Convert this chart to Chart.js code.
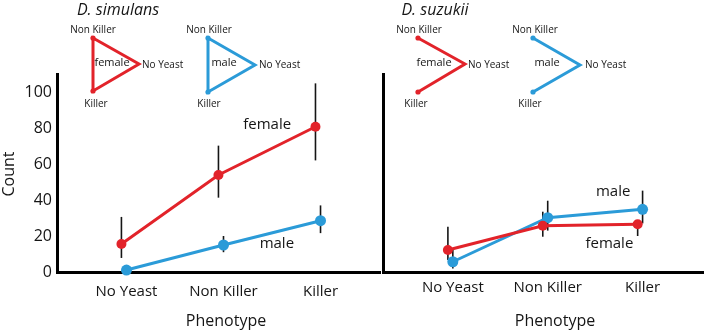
<!DOCTYPE html>
<html>
<head>
<meta charset="utf-8">
<script src="https://cdn.jsdelivr.net/npm/chart.js@4.4.0/dist/chart.umd.min.js"></script>
<style>
  body { margin: 0; background: #fff; }
  #wrap { position: relative; width: 709px; height: 332px; }
  #wrap canvas { position: absolute; left: 0; top: 0; }
</style>
</head>
<body>
<div id="wrap">
  <canvas id="simChart" width="709" height="332"></canvas>
  <canvas id="suzChart" width="709" height="332"></canvas>
</div>
<script>
const categories = ['No Yeast', 'Non Killer', 'Killer'];
const yTicks = [0, 20, 40, 60, 80, 100];

// D. simulans
const simFemale = [15.6, 53.9, 80.7];
const simFemaleLow = [7.8, 41.3, 62];
const simFemaleHigh = [30.6, 70.2, 104.8];
const simMale = [1.1, 15, 28.5];
const simMaleLow = [1.1, 11, 21.6];
const simMaleHigh = [1.1, 20, 37];

// D. suzukii
const suzFemale = [12.2, 25.7, 26.5];
const suzFemaleLow = [6.7, 19.6, 20];
const suzFemaleHigh = [25.2, 33.5, 28.9];
const suzMale = [5.7, 30.2, 34.8];
const suzMaleLow = [2, 23, 27];
const suzMaleHigh = [12.6, 39.6, 45.2];

const RED = '#e2232a';
const BLUE = '#2b9bd8';
const INK = '#151515';
const FONT = "'Open Sans', sans-serif";

// error bars are stored on the datasets (errLow / errHigh)
const errorBars = {
  id: 'errorBars',
  beforeDatasetsDraw(chart) {
    const ctx = chart.ctx;
    const y = chart.scales.y;
    ctx.save();
    ctx.strokeStyle = INK;
    ctx.lineWidth = 1.6;
    chart.data.datasets.forEach((ds, i) => {
      const meta = chart.getDatasetMeta(i);
      meta.data.forEach((pt, j) => {
        if (ds.errLow[j] === ds.errHigh[j]) return;
        ctx.beginPath();
        ctx.moveTo(pt.x, y.getPixelForValue(ds.errLow[j]));
        ctx.lineTo(pt.x, y.getPixelForValue(ds.errHigh[j]));
        ctx.stroke();
      });
    });
    ctx.restore();
  }
};

// titles, series labels and the little triangle keys
const notes = {
  id: 'notes',
  afterDraw(chart, args, opts) {
    const ctx = chart.ctx;
    ctx.save();
    (opts.glyphs || []).forEach(g => {
      ctx.strokeStyle = g.color;
      ctx.fillStyle = g.color;
      ctx.lineWidth = 3;
      ctx.lineJoin = 'miter';
      ctx.beginPath();
      g.pts.forEach((p, k) => k ? ctx.lineTo(p[0], p[1]) : ctx.moveTo(p[0], p[1]));
      if (g.closed) ctx.closePath();
      ctx.stroke();
      [g.pts[0], g.pts[2]].forEach(p => {
        ctx.beginPath();
        ctx.arc(p[0], p[1], 2.6, 0, Math.PI * 2);
        ctx.fill();
      });
    });
    ctx.fillStyle = INK;
    ctx.textBaseline = 'middle';
    (opts.texts || []).forEach(t => {
      let x = t.x, y = t.y;
      if (t.xv !== undefined) {
        x = chart.scales.x.getPixelForValue(t.xv);
        y = chart.scales.y.getPixelForValue(t.yv);
      }
      ctx.font = (t.style || '') + ' ' + t.size + 'px ' + FONT;
      ctx.textAlign = t.align || 'center';
      ctx.save();
      ctx.translate(x, y);
      if (t.rotate) ctx.rotate(t.rotate);
      ctx.fillText(t.text, 0, 0);
      ctx.restore();
    });
    ctx.restore();
  }
};

function makeDatasets(female, fLow, fHigh, male, mLow, mHigh, dodge) {
  return [
    {
      label: 'female',
      data: female.map((v, i) => ({ x: i - dodge, y: v })),
      errLow: fLow, errHigh: fHigh,
      borderColor: RED, backgroundColor: RED,
      borderWidth: 3, pointRadius: 5, pointBorderWidth: 0, clip: false
    },
    {
      label: 'male',
      data: male.map((v, i) => ({ x: i, y: v })),
      errLow: mLow, errHigh: mHigh,
      borderColor: BLUE, backgroundColor: BLUE,
      borderWidth: 3, pointRadius: 5.5, pointBorderWidth: 0, clip: false
    }
  ];
}

function makeOptions(xMin, xMax, yWidth, showY, padding, tickPad, notesOpts) {
  return {
    responsive: false,
    animation: false,
    layout: { padding: padding },
    plugins: { legend: { display: false }, tooltip: { enabled: false }, notes: notesOpts },
    scales: {
      x: {
        type: 'linear', min: xMin, max: xMax,
        afterBuildTicks: s => { s.ticks = categories.map((c, i) => ({ value: i })); },
        afterFit: s => { s.height = 60; },
        grid: { display: false, drawTicks: false },
        border: { display: true, width: 3, color: '#000' },
        ticks: {
          callback: v => categories[v],
          color: INK, font: { family: FONT, size: 15 },
          padding: tickPad, maxRotation: 0, autoSkip: false
        }
      },
      y: {
        min: 0, max: 110,
        afterBuildTicks: s => { s.ticks = yTicks.map(v => ({ value: v })); },
        afterFit: s => { s.width = yWidth; },
        grid: { display: false, drawTicks: false },
        border: { display: true, width: 3, color: '#000' },
        ticks: { display: showY, color: INK, font: { family: FONT, size: 16 }, padding: 5 }
      }
    }
  };
}

function keyTexts(top, right, bottom, name, nameX) {
  return [
    { text: 'Non Killer', x: top[0], y: top[1], size: 10 },
    { text: 'No Yeast', x: right[0], y: right[1], size: 10, align: 'left' },
    { text: 'Killer', x: bottom[0], y: bottom[1], size: 10 },
    { text: name, x: nameX, y: 63, size: 11 }
  ];
}

new Chart(document.getElementById('simChart'), {
  type: 'line',
  data: { datasets: makeDatasets(simFemale, simFemaleLow, simFemaleHigh, simMale, simMaleLow, simMaleHigh, 0.052) },
  options: makeOptions(-0.716, 2.613, 57, true, { top: 74, right: 329, left: 0, bottom: 0 }, 11, {
    glyphs: [
      { color: RED, pts: [[93, 38], [139, 64], [93, 91]], closed: true },
      { color: BLUE, pts: [[208, 38], [255, 65], [208, 92]], closed: true }
    ],
    texts: [
      { text: 'D. simulans', x: 118, y: 10, size: 16, style: 'italic' },
      { text: 'Count', x: 9, y: 174, size: 16, rotate: -Math.PI / 2 },
      { text: 'Phenotype', x: 226, y: 321, size: 16 },
      { text: 'female', xv: 1.45, yv: 82, size: 15 },
      { text: 'male', xv: 1.55, yv: 15.5, size: 15 }
    ].concat(
      keyTexts([93, 30], [142, 65], [96, 104], 'female', 112),
      keyTexts([209, 30], [259, 65], [209, 104], 'male', 224)
    )
  }),
  plugins: [errorBars, notes]
});

new Chart(document.getElementById('suzChart'), {
  type: 'line',
  data: { datasets: makeDatasets(suzFemale, suzFemaleLow, suzFemaleHigh, suzMale, suzMaleLow, suzMaleHigh, 0.052) },
  options: makeOptions(-0.736, 2.642, 383, false, { top: 74, right: 0, left: 0, bottom: 0 }, 7, {
    glyphs: [
      { color: RED, pts: [[418, 38], [465, 64], [418, 92]], closed: false },
      { color: BLUE, pts: [[533, 38], [580, 65], [533, 92]], closed: false }
    ],
    texts: [
      { text: 'D. suzukii', x: 435, y: 10, size: 16, style: 'italic' },
      { text: 'Phenotype', x: 555, y: 321, size: 16 },
      { text: 'male', xv: 1.69, yv: 44.4, size: 15 },
      { text: 'female', xv: 1.65, yv: 15.5, size: 15 }
    ].concat(
      keyTexts([419, 30], [468, 65], [416, 104], 'female', 434),
      keyTexts([535, 30], [585, 65], [530, 104], 'male', 547)
    )
  }),
  plugins: [errorBars, notes]
});
</script>
</body>
</html>
